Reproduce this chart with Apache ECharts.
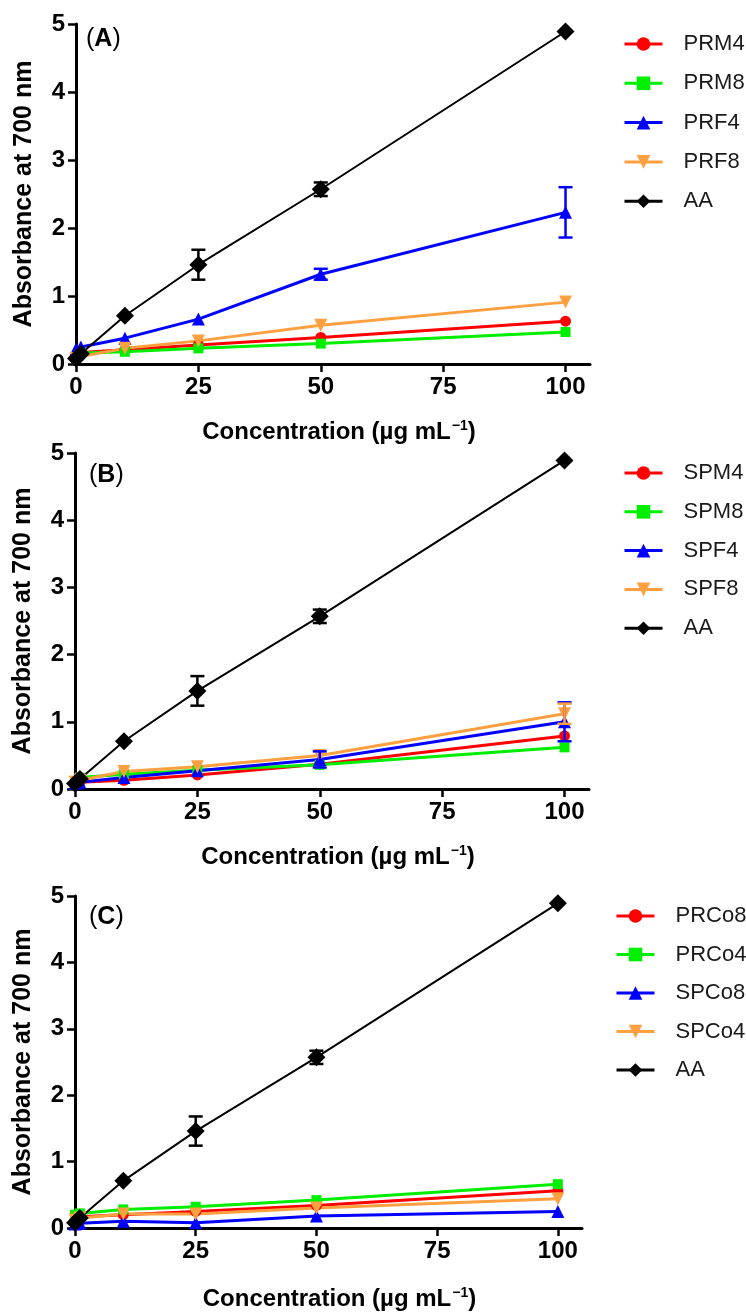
<!DOCTYPE html>
<html>
<head>
<meta charset="utf-8">
<script src="https://cdn.jsdelivr.net/npm/echarts@6/dist/echarts.min.js"></script>
<style>
  html, body { margin: 0; padding: 0; background: #ffffff; }
  #chart { width: 746px; height: 1312px; }
</style>
</head>
<body>
<div id="chart"></div>
<script>
// Concentrations (µg mL−1) and axis ticks
const conc = [0, 1, 10, 25, 50, 100];
const xTicks = [0, 25, 50, 75, 100];

// Ascorbic acid reference (same in every panel)
const aaValues = [0.08, 0.15, 0.71, 1.46, 2.57, 4.89];
const aaErr    = [0, 0, 0, 0.22, 0.10, 0];

// Panel A
const namesA = ['PRM4', 'PRM8', 'PRF4', 'PRF8'];
const prm4 = [0.10, 0.17, 0.21, 0.28, 0.39, 0.63];
const prm8 = [0.10, 0.16, 0.18, 0.23, 0.30, 0.47];
const prf4 = [0.22, 0.25, 0.38, 0.66, 1.32, 2.23];
const prf8 = [0.08, 0.11, 0.23, 0.34, 0.57, 0.91];
const prf4Err = [0, 0, 0, 0, 0.08, 0.37];

// Panel B
const namesB = ['SPM4', 'SPM8', 'SPF4', 'SPF8'];
const spm4 = [0.08, 0.10, 0.13, 0.21, 0.37, 0.79];
const spm8 = [0.12, 0.17, 0.22, 0.28, 0.36, 0.62];
const spf4 = [0.08, 0.10, 0.17, 0.27, 0.44, 1.00];
const spf8 = [0.10, 0.13, 0.26, 0.33, 0.50, 1.12];
const spf4Err = [0, 0, 0, 0, 0.12, 0.29];
const spf8Err = [0, 0, 0, 0, 0, 0.15];

// Panel C
const namesC = ['PRCo8', 'PRCo4', 'SPCo8', 'SPCo4'];
const prco8 = [0.12, 0.17, 0.20, 0.25, 0.34, 0.56];
const prco4 = [0.20, 0.22, 0.28, 0.32, 0.42, 0.66];
const spco8 = [0.06, 0.07, 0.10, 0.08, 0.18, 0.25];
const spco4 = [0.12, 0.15, 0.21, 0.21, 0.30, 0.44];

const panelLetters = ['A', 'B', 'C'];

const FONT = '"Liberation Sans", Arial, Helvetica, sans-serif';
const RED = '#ff0000', GREEN = '#00ee00', BLUE = '#0000ff', ORANGE = '#ffa040', BLACK = '#000000';

// marker style for the four sample series in each panel
const styles = [
  { color: RED,    symbol: 'circle',   size: 11, rotate: 0 },
  { color: GREEN,  symbol: 'rect',     size: 10, rotate: 0 },
  { color: BLUE,   symbol: 'triangle', size: 13, rotate: 0 },
  { color: ORANGE, symbol: 'triangle', size: 13, rotate: 180 }
];

const grids = [
  { left: 76, top: 24,  width: 514, height: 340 },
  { left: 75, top: 453, width: 514, height: 336 },
  { left: 75, top: 896, width: 507, height: 333 }
];
const legendLayout = [
  { left: 623, top: 32,  gap: 15.3 },
  { left: 623, top: 461, gap: 14.8 },
  { left: 615, top: 904, gap: 14.5 }
];
const labelTops = [27, 463, 905];
const nameShift = [12, 12, 22];

function pairs(values) {
  return conc.map((x, i) => [x, values[i]]);
}

function lineSeries(name, values, st, idx) {
  return {
    type: 'line', name: name, xAxisIndex: idx, yAxisIndex: idx,
    data: pairs(values),
    symbol: st.symbol, symbolSize: st.size, symbolRotate: st.rotate,
    lineStyle: { color: st.color, width: 3 },
    itemStyle: { color: st.color },
    emphasis: { disabled: true }
  };
}

function aaSeries(idx) {
  return {
    type: 'line', name: 'AA', xAxisIndex: idx, yAxisIndex: idx,
    data: pairs(aaValues),
    symbol: 'diamond', symbolSize: 18,
    lineStyle: { color: BLACK, width: 2 },
    itemStyle: { color: BLACK },
    z: 3,
    emphasis: { disabled: true }
  };
}

function errorSeries(values, errs, color, idx) {
  const data = [];
  conc.forEach((x, i) => {
    if (errs[i] > 0) data.push([x, values[i] - errs[i], values[i] + errs[i]]);
  });
  return {
    type: 'custom', xAxisIndex: idx, yAxisIndex: idx, silent: true, z: 4,
    data: data,
    encode: { x: 0, y: [1, 2] },
    renderItem: function (params, api) {
      const x = api.value(0);
      const top = api.coord([x, api.value(2)]);
      const bot = api.coord([x, api.value(1)]);
      const hw = 7;
      const st = { stroke: color, lineWidth: 2.5 };
      return {
        type: 'group',
        children: [
          { type: 'line', shape: { x1: top[0], y1: top[1], x2: bot[0], y2: bot[1] }, style: st },
          { type: 'line', shape: { x1: top[0] - hw, y1: top[1], x2: top[0] + hw, y2: top[1] }, style: st },
          { type: 'line', shape: { x1: bot[0] - hw, y1: bot[1], x2: bot[0] + hw, y2: bot[1] }, style: st }
        ]
      };
    }
  };
}

const panels = [
  { names: namesA, values: [prm4, prm8, prf4, prf8], errs: [null, null, prf4Err, null] },
  { names: namesB, values: [spm4, spm8, spf4, spf8], errs: [null, null, spf4Err, spf8Err] },
  { names: namesC, values: [prco8, prco4, spco8, spco4], errs: [null, null, null, null] }
];

const xAxes = [], yAxes = [], legends = [], series = [], graphics = [];

panels.forEach((p, idx) => {
  xAxes.push({
    type: 'value', gridIndex: idx, min: 0, max: 105,
    axisLine: { show: true, onZero: false, lineStyle: { color: BLACK, width: 3 } },
    axisTick: { show: true, length: 8, customValues: xTicks, lineStyle: { color: BLACK, width: 2.5 } },
    axisLabel: { customValues: xTicks, fontSize: 24, fontWeight: 'bold', color: BLACK, margin: 11, fontFamily: FONT },
    splitLine: { show: false },
    name: 'Concentration (µg mL{sup|−1})',
    nameLocation: 'middle', nameGap: idx === 2 ? 58 : 55,
    nameTextStyle: {
      fontSize: 24, fontWeight: 'bold', color: BLACK, fontFamily: FONT,
      padding: [0, 0, 0, nameShift[idx]],
      rich: { sup: { fontSize: 14, fontWeight: 'bold', color: BLACK, fontFamily: FONT, verticalAlign: 'top', padding: [0, 0, 12, 1] } }
    }
  });
  yAxes.push({
    type: 'value', gridIndex: idx, min: 0, max: 5, interval: 1,
    axisLine: { show: true, lineStyle: { color: BLACK, width: 3 } },
    axisTick: { show: true, length: 8, lineStyle: { color: BLACK, width: 2.5 } },
    axisLabel: { fontSize: 24, fontWeight: 'bold', color: BLACK, margin: 11, fontFamily: FONT },
    splitLine: { show: false },
    name: 'Absorbance at 700 nm',
    nameLocation: 'middle', nameGap: 39,
    nameTextStyle: { fontSize: 25, fontWeight: 'bold', color: BLACK, fontFamily: FONT }
  });
  const lg = legendLayout[idx];
  legends.push({
    data: p.names.concat('AA'),
    orient: 'vertical', left: lg.left, top: lg.top, padding: 0,
    itemWidth: 38, itemHeight: 17, itemGap: lg.gap,
    selectedMode: false,
    lineStyle: { width: 3 },
    textStyle: { fontSize: 22, color: '#1a1a1a', fontFamily: FONT, lineHeight: 24, padding: [0, 0, 0, 16] }
  });
  p.names.forEach((n, k) => {
    series.push(lineSeries(n, p.values[k], styles[k], idx));
  });
  series.push(aaSeries(idx));
  series.push(errorSeries(aaValues, aaErr, BLACK, idx));
  p.errs.forEach((e, k) => {
    if (e) series.push(errorSeries(p.values[k], e, styles[k].color, idx));
  });
  graphics.push({
    type: 'text', left: idx === 0 ? 86 : 89, top: labelTops[idx],
    style: {
      text: '{p|(}{b|' + panelLetters[idx] + '}{p|)}',
      rich: {
        p: { fontSize: 25, fontFamily: FONT, fill: BLACK },
        b: { fontSize: 25, fontFamily: FONT, fontWeight: 'bold', fill: BLACK }
      }
    }
  });
});

const chart = echarts.init(document.getElementById('chart'), null, { renderer: 'canvas' });
chart.setOption({
  animation: false,
  backgroundColor: '#ffffff',
  grid: grids,
  xAxis: xAxes,
  yAxis: yAxes,
  legend: legends,
  series: series,
  graphic: graphics
});
</script>
</body>
</html>
